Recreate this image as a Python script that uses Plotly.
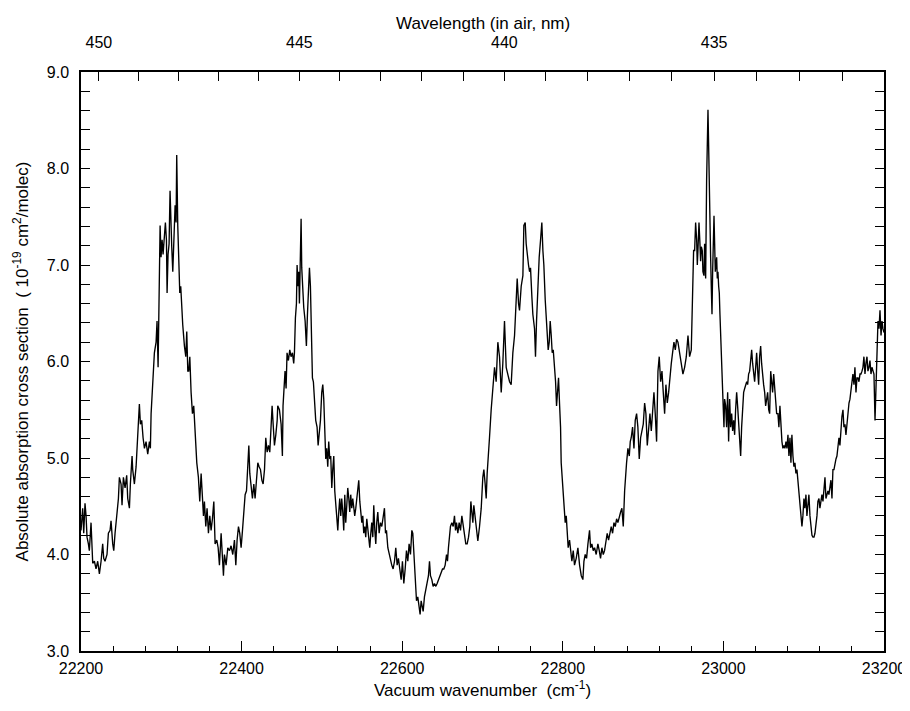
import plotly.graph_objects as go

# ---- spectrum (vacuum wavenumber cm^-1, cross section 1e-19 cm^2/molec) ----
seg1_wn = [22200.0, 22202.1, 22203.4, 22205.0, 22206.3, 22207.5, 22209.2, 22210.4, 22212.5, 22213.3,
           22214.6, 22216.7, 22218.7, 22220.8, 22222.9, 22225.0, 22227.0, 22228.3, 22229.9, 22232.4,
           22234.1, 22236.2, 22237.4, 22239.5, 22240.8, 22242.4, 22244.5, 22246.6, 22247.8, 22249.9,
           22251.1, 22252.8, 22254.9, 22256.9, 22258.2, 22260.3, 22261.5, 22263.6, 22264.4, 22266.5,
           22268.6, 22270.7, 22271.9, 22272.7, 22274.0, 22275.6, 22277.3, 22279.0, 22281.0, 22283.1,
           22285.2, 22286.4, 22287.3, 22289.3, 22291.4, 22293.5, 22294.7, 22296.0, 22297.2, 22298.5,
           22299.7, 22301.0, 22302.2, 22303.9, 22305.1, 22306.4, 22307.2, 22308.4, 22309.7, 22310.9,
           22311.8, 22313.0, 22314.3, 22315.5, 22317.2, 22318.4, 22319.2, 22320.5, 22321.7, 22323.0,
           22324.2, 22325.5, 22326.7, 22328.8, 22330.5, 22331.7, 22333.0]
seg1_val = [4.25, 4.48, 4.22, 4.53, 4.40, 4.18, 4.11, 4.04, 4.33, 4.11,
            3.91, 3.93, 3.85, 3.93, 3.80, 3.93, 4.11, 3.96, 3.93, 4.00,
            4.22, 4.25, 4.35, 4.11, 4.04, 4.22, 4.40, 4.58, 4.80, 4.73,
            4.51, 4.80, 4.69, 4.82, 4.58, 4.48, 4.73, 5.02, 4.88, 4.73,
            4.91, 5.21, 5.35, 5.56, 5.35, 5.39, 5.21, 5.10, 5.17, 5.04,
            5.17, 5.10, 5.46, 5.79, 6.09, 6.20, 6.42, 5.94, 6.56, 7.41,
            7.08, 7.26, 7.11, 7.37, 7.44, 7.26, 6.71, 7.11, 7.22, 7.77,
            7.33, 7.19, 6.93, 7.30, 7.62, 7.44, 8.14, 7.41, 6.97, 6.71,
            6.78, 6.49, 6.38, 6.16, 6.05, 6.31, 5.90]

seg2_wn = [22334.2, 22335.5, 22337.1, 22338.8, 22340.4, 22341.3, 22342.5, 22344.2, 22346.2, 22347.9,
           22349.6, 22350.8, 22352.5, 22353.7, 22355.4, 22357.0, 22358.7, 22360.4, 22362.0, 22363.7,
           22365.4, 22367.0, 22369.1, 22370.8, 22372.4, 22374.5, 22375.7, 22377.4, 22378.6, 22380.7,
           22382.8, 22384.9, 22386.9, 22389.0, 22391.1, 22392.8, 22394.4, 22396.1, 22397.7, 22399.4,
           22401.1, 22402.7, 22404.4, 22406.1, 22407.7, 22409.0, 22410.2, 22411.9, 22413.5, 22415.2,
           22416.8, 22418.5, 22420.2, 22421.8, 22423.5, 22425.2, 22426.8, 22428.5, 22430.1, 22431.8,
           22433.5, 22435.1, 22436.8, 22438.0, 22439.3, 22440.9, 22442.6, 22444.3]
seg2_val = [5.90, 6.05, 5.68, 5.46, 5.54, 5.39, 5.13, 4.95, 4.80, 4.55,
            4.84, 4.66, 4.40, 4.55, 4.29, 4.48, 4.22, 4.40, 4.25, 4.37,
            4.55, 4.11, 4.15, 4.07, 3.89, 4.22, 3.96, 3.78, 4.00, 3.89,
            4.07, 4.04, 4.09, 4.00, 4.15, 3.89, 4.15, 4.29, 4.22, 4.07,
            4.25, 4.48, 4.62, 4.66, 4.99, 5.13, 4.84, 4.69, 4.58, 4.73,
            4.58, 4.77, 4.95, 4.91, 4.88, 4.77, 4.73, 4.88, 5.21, 5.06,
            5.13, 5.06, 5.32, 5.54, 5.35, 5.13, 5.24, 5.39]

seg3_wn = [22445.0, 22447.1, 22449.2, 22450.8, 22451.6, 22452.9, 22454.1, 22455.4, 22456.6, 22458.3,
           22460.0, 22461.6, 22463.3, 22464.9, 22465.8, 22467.0, 22468.3, 22469.1, 22470.3, 22471.2,
           22472.0, 22472.8, 22474.1, 22474.9, 22476.1, 22477.4, 22479.1, 22480.7, 22482.0, 22483.2,
           22484.5, 22485.7, 22486.9, 22488.2, 22489.4, 22490.7, 22492.3, 22494.0, 22495.3, 22496.5,
           22498.2, 22499.8, 22501.1, 22502.3, 22503.6, 22504.8, 22506.0, 22507.3, 22508.5, 22509.8,
           22511.0, 22512.3, 22513.5, 22514.8, 22516.0, 22517.3, 22518.5, 22519.8, 22521.0, 22522.2,
           22523.5, 22524.7, 22526.0, 22527.2, 22528.5, 22529.7, 22531.0, 22532.2, 22533.5, 22534.7,
           22535.9, 22537.2, 22538.4, 22539.7, 22540.9, 22542.2, 22543.4, 22544.7, 22545.9, 22547.2,
           22548.4, 22549.7, 22550.9, 22552.1, 22553.4, 22554.6, 22555.9, 22557.1, 22558.4, 22559.6,
           22560.9, 22562.1, 22563.4, 22564.6, 22565.9, 22567.1, 22568.3]
seg3_val = [5.54, 5.50, 5.35, 5.02, 5.54, 5.83, 5.90, 5.72, 6.09, 6.01,
            6.12, 6.05, 6.09, 5.98, 6.09, 6.45, 6.60, 7.00, 6.78, 6.93,
            6.60, 6.93, 7.48, 6.97, 6.67, 6.56, 6.42, 6.16, 6.49, 6.78,
            6.97, 6.78, 6.27, 5.83, 5.79, 5.57, 5.39, 5.32, 5.13, 5.24,
            5.39, 5.68, 5.76, 5.61, 5.24, 4.99, 5.10, 4.91, 5.17, 4.99,
            5.02, 4.69, 4.88, 5.02, 4.66, 4.48, 4.33, 4.25, 4.44, 4.58,
            4.40, 4.58, 4.44, 4.25, 4.62, 4.33, 4.51, 4.69, 4.58, 4.44,
            4.62, 4.48, 4.58, 4.51, 4.40, 4.48, 4.58, 4.66, 4.77, 4.55,
            4.40, 4.33, 4.40, 4.22, 4.29, 4.18, 4.37, 4.25, 4.15, 4.07,
            4.22, 4.33, 4.18, 4.51, 4.25, 4.11, 4.33]

seg4_wn = [22569.6, 22571.3, 22572.9, 22574.6, 22576.2, 22577.9, 22579.2, 22580.4, 22582.1, 22583.7,
           22585.4, 22587.0, 22588.7, 22590.4, 22592.0, 22593.7, 22595.3, 22597.0, 22598.7, 22600.3,
           22602.0, 22603.7, 22605.3, 22607.0, 22608.6, 22610.3, 22612.0, 22613.2, 22614.5, 22615.3,
           22616.5, 22617.8, 22619.4, 22621.1, 22622.3, 22623.6, 22624.8, 22626.1, 22627.7, 22629.4,
           22631.1, 22632.7, 22634.0, 22635.2, 22636.9, 22638.5, 22640.2, 22641.9, 22643.5, 22645.2,
           22646.8, 22648.5, 22650.2, 22651.8, 22653.5, 22655.2, 22656.4, 22657.6, 22658.9, 22660.1,
           22661.8, 22663.5, 22665.1, 22666.4, 22667.6, 22669.3, 22670.9, 22672.6, 22674.3, 22675.9,
           22677.6, 22679.2, 22680.9, 22682.6, 22684.2, 22685.5, 22686.7, 22688.0, 22689.2, 22690.9,
           22692.5]
seg4_val = [4.44, 4.22, 4.33, 4.29, 4.40, 4.48, 4.22, 4.25, 4.07, 4.00,
            3.96, 3.89, 3.85, 3.93, 4.07, 3.89, 3.96, 3.85, 3.74, 3.93,
            3.70, 3.85, 4.04, 3.93, 4.11, 4.00, 4.25, 4.22, 4.00, 3.85,
            3.60, 3.52, 3.56, 3.45, 3.38, 3.52, 3.45, 3.41, 3.56, 3.63,
            3.70, 3.78, 3.93, 3.78, 3.74, 3.67, 3.70, 3.67, 3.70, 3.74,
            3.78, 3.81, 3.85, 3.85, 3.89, 4.00, 3.93, 4.07, 4.25, 4.29,
            4.33, 4.29, 4.40, 4.25, 4.33, 4.22, 4.33, 4.25, 4.40, 4.29,
            4.18, 4.11, 4.11, 4.18, 4.29, 4.55, 4.44, 4.33, 4.51, 4.40,
            4.29]

seg5_wn = [22694.2, 22696.3, 22698.4, 22700.4, 22701.7, 22703.3, 22704.6, 22705.8, 22707.5, 22708.7,
           22710.8, 22712.9, 22715.0, 22717.0, 22719.1, 22721.2, 22723.3, 22725.3, 22727.4, 22729.5,
           22731.6, 22733.7, 22735.7, 22737.8, 22739.9, 22742.0, 22743.2, 22744.9, 22746.1, 22748.2,
           22750.3, 22751.5, 22753.2, 22754.4, 22755.7, 22757.3, 22758.6, 22759.8, 22761.5, 22762.7,
           22764.8, 22766.0, 22767.3, 22768.9, 22770.6, 22772.3, 22773.9, 22775.2, 22776.4, 22778.1,
           22779.3, 22780.6, 22781.8, 22783.1, 22784.3, 22785.6, 22786.8, 22788.1, 22789.7, 22791.0,
           22792.2, 22793.4, 22794.7, 22795.9, 22797.2, 22798.0, 22799.3, 22800.5, 22801.8, 22803.0,
           22804.3, 22805.5, 22806.7, 22808.4, 22809.6, 22811.3, 22813.0, 22814.6, 22816.7]
seg5_val = [4.14, 4.29, 4.48, 4.80, 4.88, 4.73, 4.58, 4.84, 5.13, 5.21,
            5.50, 5.76, 5.94, 5.79, 6.20, 6.05, 5.68, 5.98, 6.42, 5.94,
            5.87, 5.79, 5.76, 6.09, 6.27, 6.64, 6.86, 6.60, 6.53, 6.78,
            6.89, 7.41, 7.44, 7.22, 7.08, 7.00, 6.93, 6.97, 6.67, 6.49,
            6.34, 6.05, 6.42, 6.78, 7.08, 7.26, 7.44, 7.15, 7.00, 6.64,
            6.45, 6.27, 6.12, 6.20, 6.42, 6.27, 6.09, 6.12, 5.94, 5.79,
            5.54, 5.76, 5.83, 5.57, 5.32, 4.95, 4.77, 4.58, 4.40, 4.33,
            4.40, 4.25, 4.07, 4.15, 4.04, 3.93, 4.04, 3.89, 3.96]

seg6_wn = [22818.8, 22820.9, 22823.0, 22825.0, 22826.3, 22827.9, 22829.6, 22831.3, 22833.3, 22834.6,
           22836.2, 22837.9, 22839.6, 22841.6, 22843.7, 22845.4, 22847.0, 22848.7, 22850.4, 22852.0,
           22854.1, 22855.3, 22857.0, 22858.7, 22860.3, 22862.0, 22863.7, 22865.3, 22867.0, 22868.6,
           22870.3, 22872.0, 22873.6, 22875.3, 22877.0, 22878.2, 22879.4, 22881.1, 22882.8, 22884.0,
           22885.2, 22886.9, 22888.6, 22890.2, 22891.9, 22893.5, 22895.2, 22896.9, 22898.5, 22900.2,
           22901.9, 22903.5, 22905.2, 22906.8, 22908.5, 22910.2, 22911.8, 22913.5, 22915.1, 22916.8,
           22918.5, 22920.1, 22921.8, 22923.5, 22925.1, 22926.8, 22928.4, 22930.1, 22931.8, 22933.4,
           22935.1, 22936.7, 22938.4, 22940.1, 22941.7]
seg6_val = [4.07, 3.89, 3.78, 3.74, 3.93, 4.00, 3.96, 4.11, 4.25, 4.07,
            4.11, 4.04, 4.07, 4.00, 4.11, 4.04, 3.96, 4.07, 4.00, 4.04,
            4.15, 4.22, 4.15, 4.25, 4.29, 4.22, 4.33, 4.29, 4.37, 4.33,
            4.40, 4.44, 4.48, 4.29, 4.66, 4.84, 4.95, 5.10, 5.02, 5.17,
            5.21, 5.32, 5.10, 5.39, 5.46, 5.32, 4.99, 5.21, 5.28, 5.35,
            5.57, 5.46, 5.13, 5.32, 5.46, 5.28, 5.54, 5.68, 5.46, 5.17,
            5.90, 6.05, 5.79, 5.90, 5.68, 5.46, 5.76, 5.57, 5.68, 5.87,
            5.98, 6.09, 6.20, 6.12, 6.23]

seg7_wn = [22943.4, 22945.5, 22947.6, 22949.6, 22951.7, 22953.8, 22955.9, 22957.9, 22960.0, 22960.8,
           22962.1, 22962.9, 22964.2, 22965.4, 22966.7, 22967.5, 22968.3, 22969.6, 22970.8, 22971.6,
           22972.5, 22973.7, 22974.5, 22975.8, 22976.6, 22977.9, 22979.1, 22980.0, 22980.8, 22981.6,
           22982.4, 22983.3, 22984.1, 22984.9, 22985.8, 22986.6, 22987.4, 22988.3, 22989.1, 22989.9,
           22990.7, 22991.6, 22992.4, 22993.2, 22994.1, 22994.9, 22995.7, 22996.6, 22997.4, 22998.2,
           22999.0, 22999.9, 23000.7, 23001.5, 23002.8, 23004.0, 23005.3, 23006.5, 23007.8, 23009.0,
           23010.3, 23011.5, 23012.8, 23014.0, 23015.2, 23016.5, 23017.7, 23019.0, 23020.2, 23021.5,
           23022.7, 23024.0, 23025.2, 23026.5, 23027.7, 23029.0, 23030.2, 23031.4, 23032.7, 23033.9,
           23035.2, 23036.4, 23037.7, 23038.9, 23040.2, 23041.4, 23042.7, 23043.9, 23045.1, 23046.4,
           23047.6, 23048.9, 23050.1, 23051.4, 23052.6, 23053.9, 23055.1, 23056.4, 23057.6, 23058.9,
           23060.1, 23061.3, 23062.6, 23063.8, 23065.1, 23066.3]
seg7_val = [6.20, 6.09, 5.98, 5.87, 5.94, 6.05, 6.27, 6.05, 6.12, 6.45,
            6.78, 7.15, 7.15, 7.44, 7.26, 7.00, 7.15, 7.44, 7.22, 7.04,
            7.19, 7.15, 6.93, 6.89, 7.22, 6.86, 7.88, 8.39, 8.61, 8.25,
            7.70, 7.44, 7.08, 6.78, 6.49, 6.93, 7.30, 7.51, 7.22, 6.93,
            7.00, 7.08, 6.86, 6.93, 6.78, 6.71, 6.49, 6.23, 6.05, 5.83,
            5.68, 5.50, 5.32, 5.61, 5.54, 5.32, 5.68, 5.17, 5.61, 5.32,
            5.46, 5.28, 5.39, 5.24, 5.50, 5.68, 5.54, 5.32, 5.13, 5.02,
            5.32, 5.50, 5.68, 5.72, 5.76, 5.79, 5.76, 5.87, 5.90, 6.05,
            6.12, 5.98, 5.87, 5.79, 5.94, 6.09, 5.90, 5.76, 6.05, 6.16,
            5.98, 5.83, 5.76, 5.68, 5.54, 5.61, 5.68, 5.50, 5.46, 5.90,
            5.79, 5.68, 5.87, 5.76, 5.57, 5.46]

seg8_wn = [23067.9, 23069.1, 23070.4, 23071.6, 23072.9, 23074.1, 23075.4, 23076.6, 23077.9, 23079.1,
           23080.4, 23081.6, 23082.9, 23084.1, 23085.3, 23086.6, 23087.8, 23089.1, 23090.3, 23091.6,
           23092.8, 23094.1, 23095.3, 23096.6, 23097.8, 23099.0, 23100.3, 23101.5, 23102.8, 23104.0,
           23105.3, 23106.5, 23107.8, 23109.0, 23110.3, 23111.5, 23112.8, 23114.0, 23115.2, 23116.5,
           23117.7, 23119.0, 23120.2, 23121.5, 23122.7, 23124.0, 23125.2, 23126.5, 23127.7, 23128.9,
           23130.2, 23131.4, 23132.7, 23133.9, 23135.2, 23136.4, 23137.7, 23138.9, 23140.2, 23141.4,
           23142.7, 23143.9, 23145.1, 23146.4, 23147.6, 23148.9, 23150.1, 23151.4, 23152.6, 23153.9,
           23155.1, 23156.4, 23157.6, 23158.9, 23160.1, 23161.3, 23162.6, 23163.8, 23165.1, 23166.3,
           23167.6, 23168.8, 23170.1, 23171.3, 23172.6, 23173.8, 23175.0, 23176.3, 23177.5, 23178.8,
           23180.0, 23181.3, 23182.5, 23183.8, 23185.0, 23186.3, 23187.5, 23188.8, 23190.0, 23191.3,
           23192.5, 23193.8, 23195.0, 23196.3, 23197.5, 23198.7, 23200.0]
seg8_val = [5.46, 5.32, 5.54, 5.32, 5.17, 5.10, 5.13, 5.10, 5.17, 5.10,
            5.24, 5.02, 5.21, 4.95, 5.24, 5.02, 4.91, 4.95, 4.84, 4.88,
            4.77, 4.58, 4.51, 4.40, 4.29, 4.40, 4.58, 4.48, 4.62, 4.40,
            4.55, 4.62, 4.40, 4.25, 4.20, 4.18, 4.18, 4.22, 4.29, 4.40,
            4.55, 4.58, 4.48, 4.58, 4.62, 4.55, 4.73, 4.80, 4.58, 4.62,
            4.66, 4.62, 4.69, 4.77, 4.58, 4.88, 4.88, 4.95, 4.99, 5.02,
            5.10, 5.21, 5.13, 5.32, 5.43, 5.50, 5.32, 5.35, 5.24, 5.35,
            5.50, 5.57, 5.61, 5.72, 5.76, 5.87, 5.76, 5.94, 5.68, 5.83,
            5.83, 5.79, 5.87, 5.87, 5.90, 5.94, 6.05, 5.87, 5.98, 6.05,
            5.90, 5.94, 6.01, 5.87, 5.94, 5.90, 5.87, 5.39, 5.68, 6.12,
            6.42, 6.34, 6.53, 6.27, 6.42, 6.34, 6.30]

# ---- axis tick definitions ----
wn_range = [22200, 23200]
wn_major_ticks = [22200, 22400, 22600, 22800, 23000, 23200]
sigma_range = [3.0, 9.0]
wl_labeled_nm = [450, 445, 440, 435]
wl_minor_nm = [432, 433, 434, 436, 437, 438, 439, 441, 442, 443, 444, 446, 447, 448, 449]

segments = [(seg1_wn, seg1_val), (seg2_wn, seg2_val), (seg3_wn, seg3_val), (seg4_wn, seg4_val),
            (seg5_wn, seg5_val), (seg6_wn, seg6_val), (seg7_wn, seg7_val), (seg8_wn, seg8_val)]
wn_all, val_all = [], []
for w, v in segments:
    for a, b in zip(w, v):
        wn_all.append(a)
        val_all.append(b)

def nm_to_wn(nm):
    return 1e7 / nm

FONT = "Liberation Sans, Arial, Helvetica, sans-serif"
TICK_FS = 16
TITLE_FS = 17

fig = go.Figure()
fig.add_trace(go.Scatter(x=wn_all, y=val_all, mode="lines",
                         line=dict(color="black", width=1.35),
                         showlegend=False, hoverinfo="x+y"))
# invisible helper traces so the top (wavelength) axes get drawn
for ax in ["x2", "x3"]:
    fig.add_trace(go.Scatter(x=wn_all, y=val_all, mode="lines", xaxis=ax, yaxis="y",
                             line=dict(color="rgba(0,0,0,0)", width=0), opacity=0,
                             showlegend=False, hoverinfo="skip"))

fig.update_layout(
    width=910, height=711,
    margin=dict(l=73, r=34, t=64, b=68),
    paper_bgcolor="white", plot_bgcolor="white",
    font=dict(family=FONT, color="black", size=TICK_FS),
    xaxis=dict(
        range=wn_range, tickvals=wn_major_ticks, ticktext=[str(t) for t in wn_major_ticks],
        ticks="inside", ticklen=10, tickwidth=1.2, tickcolor="black",
        minor=dict(dtick=40, tick0=22200, ticks="inside", ticklen=5, tickwidth=1, tickcolor="black"),
        showline=True, linecolor="black", linewidth=1.5, mirror=True,
        showgrid=False, zeroline=False, ticklabelstandoff=2,
        tickfont=dict(size=TICK_FS, family=FONT),
        title=dict(text="Vacuum wavenumber  (cm<sup>-1</sup>)",
                   font=dict(size=TITLE_FS, family=FONT), standoff=8),
    ),
    yaxis=dict(
        range=sigma_range, dtick=1, tick0=3, tickformat=".1f",
        ticks="inside", ticklen=9, tickwidth=1.2, tickcolor="black",
        minor=dict(dtick=0.2, tick0=3, ticks="inside", ticklen=5, tickwidth=1, tickcolor="black"),
        showline=True, linecolor="black", linewidth=1.5, mirror="allticks",
        showgrid=False, zeroline=False, ticklabelstandoff=7,
        tickfont=dict(size=TICK_FS, family=FONT),
        title=dict(text="Absolute absorption cross section  ( 10<sup>-19</sup> cm<sup>2</sup>/molec)",
                   font=dict(size=TITLE_FS, family=FONT), standoff=14),
    ),
    xaxis2=dict(
        overlaying="x", side="top", anchor="y", range=wn_range,
        tickvals=[nm_to_wn(n) for n in wl_labeled_nm], ticktext=[str(n) for n in wl_labeled_nm],
        ticks="inside", ticklen=9, tickwidth=1, tickcolor="black",
        showline=False, showgrid=False, zeroline=False, ticklabelstandoff=20,
        tickfont=dict(size=TICK_FS, family=FONT),
    ),
    xaxis3=dict(
        overlaying="x", side="top", anchor="y", range=wn_range,
        tickvals=[nm_to_wn(n) for n in wl_minor_nm], showticklabels=False,
        ticks="inside", ticklen=9, tickwidth=1, tickcolor="black",
        showline=False, showgrid=False, zeroline=False,
    ),
    annotations=[dict(text="Wavelength (in air, nm)", xref="paper", yref="paper",
                      x=0.5, y=1.0, xanchor="center", yanchor="middle", yshift=49,
                      showarrow=False, font=dict(size=TITLE_FS, family=FONT))],
)

fig.write_html("out.html")
